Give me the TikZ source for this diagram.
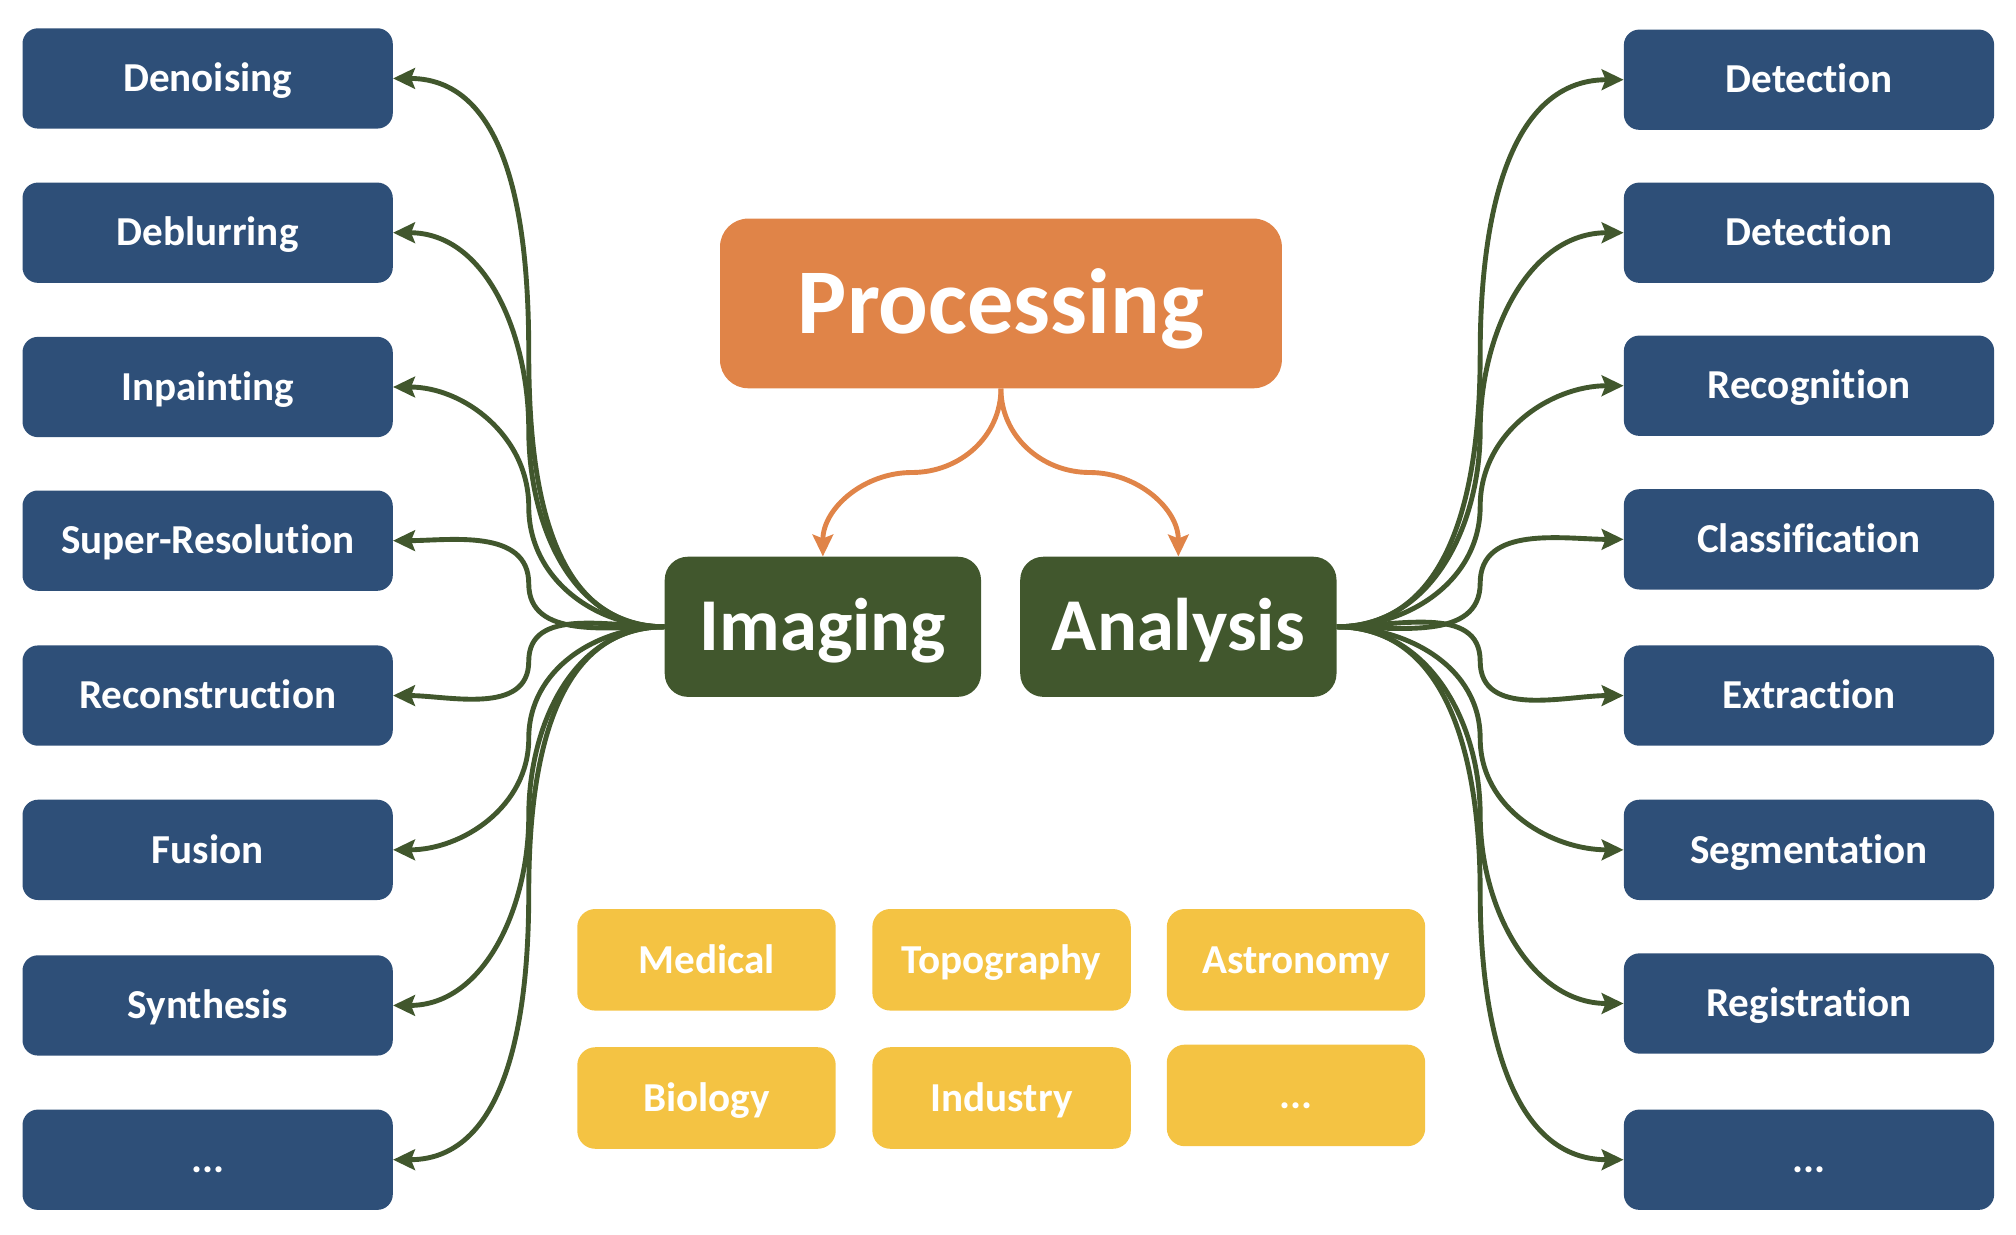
\documentclass[tikz,border=0pt]{standalone}
\usepackage{fontspec}
\setmainfont{Carlito}[Ligatures=NoCommon]
\usetikzlibrary{calc,arrows.meta}

\definecolor{taskblue}{RGB}{46,79,120}
\definecolor{procorange}{RGB}{224,132,72}
\definecolor{mossgreen}{RGB}{65,87,45}
\definecolor{fieldyellow}{RGB}{244,195,67}

\tikzset{
	task/.style={fill=taskblue, rounded corners=12pt, minimum width=288pt, minimum height=78pt,
		text=white, font=\fontsize{32}{38}\selectfont\bfseries, text height=20.6pt, text depth=0pt},
	branch/.style={fill=mossgreen, rounded corners=18pt, minimum width=246pt, minimum height=109pt,
		text=white, font=\fontsize{58}{66}\selectfont\bfseries, text height=37pt, text depth=0pt},
	root/.style={fill=procorange, rounded corners=22pt, minimum width=437pt, minimum height=132pt,
		text=white, font=\fontsize{72}{80}\selectfont\bfseries, text height=46pt, text depth=0pt},
	field/.style={fill=fieldyellow, rounded corners=14pt, minimum width=201pt, minimum height=79pt,
		text=white, font=\fontsize{32}{38}\selectfont\bfseries, text height=20.6pt, text depth=0pt},
	link/.style={mossgreen, line width=3.8pt, -{Stealth[length=17pt, width=16pt, inset=3pt]}},
	split/.style={procorange, line width=3.8pt, -{Stealth[length=17pt, width=16pt, inset=3pt]}}
}

\begin{document}
\begin{tikzpicture}[x=1pt, y=-1pt]
	\useasboundingbox (0,0) rectangle (1568,960);
	
	%center
	\node[root] (proc) at (778.5,236) {Processing};
	\node[branch] (img) at (640,487.5) {Imaging};
	\node[branch] (ana) at (916.5,487.5) {Analysis};
	
	%imaging tasks
	\node[task] (l1) at (161.5,61) {Denoising};
	\node[task] (l2) at (161.5,181) {Deblurring};
	\node[task] (l3) at (161.5,301) {Inpainting};
	\node[task] (l4) at (161.5,420.5) {Super-Resolution};
	\node[task] (l5) at (161.5,541) {Reconstruction};
	\node[task] (l6) at (161.5,661) {Fusion};
	\node[task] (l7) at (161.5,782) {Synthesis};
	\node[task] (l8) at (161.5,902) {...};
	
	%analysis tasks
	\node[task] (r1) at (1407,62) {Detection};
	\node[task] (r2) at (1407,181) {Detection};
	\node[task] (r3) at (1407,300) {Recognition};
	\node[task] (r4) at (1407,419.5) {Classification};
	\node[task] (r5) at (1407,541) {Extraction};
	\node[task] (r6) at (1407,661) {Segmentation};
	\node[task] (r7) at (1407,780.5) {Registration};
	\node[task] (r8) at (1407,902) {...};
	
	%fields
	\node[field] (f1) at (549.5,746.5) {Medical};
	\node[field] (f2) at (779,746.5) {Topography};
	\node[field] (f3) at (1008,746.5) {Astronomy};
	\node[field] (f4) at (549.5,854) {Biology};
	\node[field] (f5) at (779,854) {Industry};
	\node[field] (f6) at (1008,852) {...};
	
	%processing to branches
	\draw[split] (proc.south) to[out=-90,in=0] ($(proc.south)!.5!(img.north)$) to[out=180,in=90] (img.north);
	\draw[split] (proc.south) to[out=-90,in=180] ($(proc.south)!.5!(ana.north)$) to[out=0,in=90] (ana.north);
	
	%imaging links
	\draw[link] (img.west) to[out=180,in=-90] ($(img.west)!.5!(l1.east)$) to[out=90,in=0] (l1.east);
	\draw[link] (img.west) to[out=180,in=-90] ($(img.west)!.5!(l2.east)$) to[out=90,in=0] (l2.east);
	\draw[link] (img.west) to[out=180,in=-90] ($(img.west)!.5!(l3.east)$) to[out=90,in=0] (l3.east);
	\draw[link] (img.west) to[out=180,in=-90] ($(img.west)!.5!(l4.east)$) to[out=90,in=0] (l4.east);
	\draw[link] (img.west) to[out=180,in=90] ($(img.west)!.5!(l5.east)$) to[out=-90,in=0] (l5.east);
	\draw[link] (img.west) to[out=180,in=90] ($(img.west)!.5!(l6.east)$) to[out=-90,in=0] (l6.east);
	\draw[link] (img.west) to[out=180,in=90] ($(img.west)!.5!(l7.east)$) to[out=-90,in=0] (l7.east);
	\draw[link] (img.west) to[out=180,in=90] ($(img.west)!.5!(l8.east)$) to[out=-90,in=0] (l8.east);
	
	%analysis links
	\draw[link] (ana.east) to[out=0,in=-90] ($(ana.east)!.5!(r1.west)$) to[out=90,in=180] (r1.west);
	\draw[link] (ana.east) to[out=0,in=-90] ($(ana.east)!.5!(r2.west)$) to[out=90,in=180] (r2.west);
	\draw[link] (ana.east) to[out=0,in=-90] ($(ana.east)!.5!(r3.west)$) to[out=90,in=180] (r3.west);
	\draw[link] (ana.east) to[out=0,in=-90] ($(ana.east)!.5!(r4.west)$) to[out=90,in=180] (r4.west);
	\draw[link] (ana.east) to[out=0,in=90] ($(ana.east)!.5!(r5.west)$) to[out=-90,in=180] (r5.west);
	\draw[link] (ana.east) to[out=0,in=90] ($(ana.east)!.5!(r6.west)$) to[out=-90,in=180] (r6.west);
	\draw[link] (ana.east) to[out=0,in=90] ($(ana.east)!.5!(r7.west)$) to[out=-90,in=180] (r7.west);
	\draw[link] (ana.east) to[out=0,in=90] ($(ana.east)!.5!(r8.west)$) to[out=-90,in=180] (r8.west);
\end{tikzpicture}
\end{document}
